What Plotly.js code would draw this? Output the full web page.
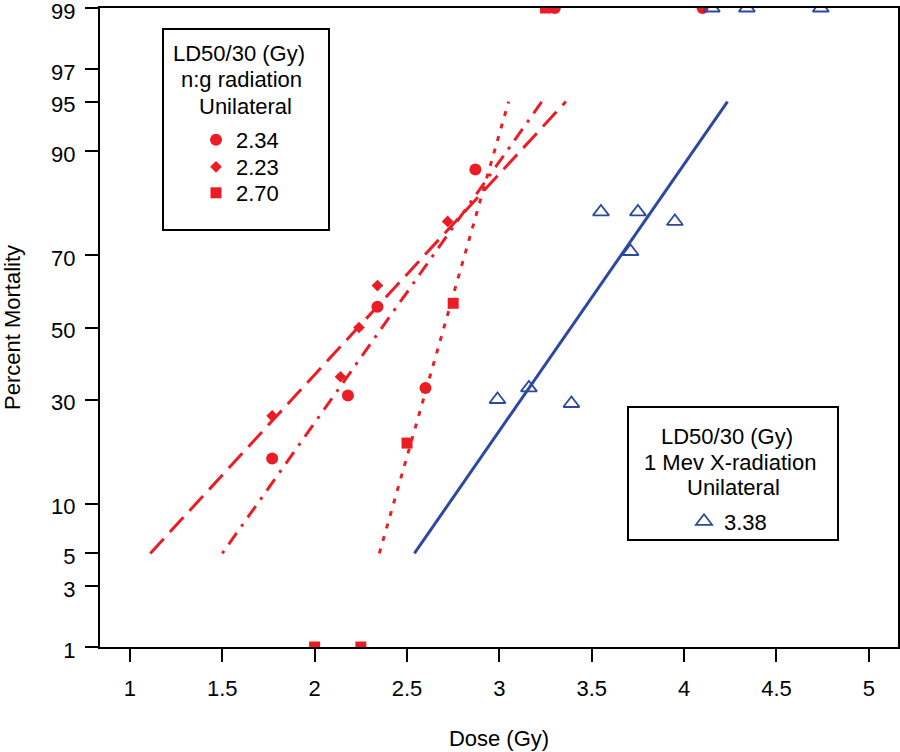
<!DOCTYPE html>
<html>
<head>
<meta charset="utf-8">
<script src="https://cdn.plot.ly/plotly-3.0.1.min.js"></script>
<style>html,body{margin:0;padding:0;background:#fff;}#chart{width:900px;height:752px;}</style>
</head>
<body>
<div id="chart"></div>
<script>
// ---- Data ----
const circleDose = [1.77, 2.18, 2.34, 2.60, 2.87, 3.30, 4.10];
const circleMort = [17, 31, 56, 33, 87.5, 99, 99];
const diamondDose = [1.77, 2.14, 2.24, 2.34, 2.72];
const diamondMort = [26, 36, 50, 62, 78];
const squareDose = [2.00, 2.25, 2.50, 2.75, 3.25];
const squareMort = [1, 1, 20, 57, 99];
const triDose = [2.99, 3.16, 3.39, 3.55, 3.71, 3.75, 3.95, 4.15, 4.34, 4.74];
const triMort = [30, 33, 29, 80, 71, 80, 78, 99, 99, 99];

// probit fit lines, from 5% to 95% mortality
const fitLevels = [5, 95];
const diamondFitDose = [1.11, 3.36];
const circleFitDose = [1.50, 3.23];
const squareFitDose = [2.35, 3.05];
const triFitDose = [2.54, 4.235];

const legendLabels = ["2.34", "2.23", "2.70", "3.38"];
const yTickVals = [1, 3, 5, 10, 30, 50, 70, 90, 95, 97, 99];
const xTickVals = [1, 1.5, 2, 2.5, 3, 3.5, 4, 4.5, 5];

// ---- probit scale (inverse standard normal CDF, Acklam) ----
function probit(p) {
  const a = [-3.969683028665376e+01, 2.209460984245205e+02, -2.759285104469687e+02, 1.383577518672690e+02, -3.066479806614716e+01, 2.506628277459239e+00];
  const b = [-5.447609879822406e+01, 1.615858368580409e+02, -1.556989798598866e+02, 6.680131188771972e+01, -1.328068155288572e+01];
  const c = [-7.784894002430293e-03, -3.223964580411365e-01, -2.400758277161838e+00, -2.549732539343734e+00, 4.374664141464968e+00, 2.938163982698783e+00];
  const d = [7.784695709041462e-03, 3.224671290700398e-01, 2.445134137142996e+00, 3.754408661907416e+00];
  const pl = 0.02425, ph = 1 - pl;
  let q, r;
  if (p < pl) {
    q = Math.sqrt(-2 * Math.log(p));
    return (((((c[0]*q+c[1])*q+c[2])*q+c[3])*q+c[4])*q+c[5]) / ((((d[0]*q+d[1])*q+d[2])*q+d[3])*q+1);
  } else if (p <= ph) {
    q = p - 0.5; r = q * q;
    return (((((a[0]*r+a[1])*r+a[2])*r+a[3])*r+a[4])*r+a[5])*q / (((((b[0]*r+b[1])*r+b[2])*r+b[3])*r+b[4])*r+1);
  } else {
    q = Math.sqrt(-2 * Math.log(1 - p));
    return -(((((c[0]*q+c[1])*q+c[2])*q+c[3])*q+c[4])*q+c[5]) / ((((d[0]*q+d[1])*q+d[2])*q+d[3])*q+1);
  }
}
const pz = arr => arr.map(v => probit(v / 100));

const RED = "#EC1C24";
const BLUE = "#2C48A0";
const FONT = "Liberation Sans, Arial, sans-serif";
const FS = 22;

const traces = [
  {x: diamondFitDose, y: pz(fitLevels), mode: "lines", showlegend: false, hoverinfo: "skip",
   line: {color: RED, width: 3, dash: "20px,9px"}},
  {x: circleFitDose, y: pz(fitLevels), mode: "lines", showlegend: false, hoverinfo: "skip",
   line: {color: RED, width: 3, dash: "3px,8px,14px,8px"}},
  {x: squareFitDose, y: pz(fitLevels), mode: "lines", showlegend: false, hoverinfo: "skip",
   line: {color: RED, width: 3, dash: "5px,8px"}},
  {x: triFitDose, y: pz(fitLevels), mode: "lines", showlegend: false, hoverinfo: "skip",
   line: {color: BLUE, width: 3}},
  {x: circleDose, y: pz(circleMort), mode: "markers", name: legendLabels[0], legend: "legend",
   marker: {symbol: "circle", size: 12, color: RED}},
  {x: diamondDose, y: pz(diamondMort), mode: "markers", name: legendLabels[1], legend: "legend2",
   marker: {symbol: "diamond", size: 9, color: RED}},
  {x: squareDose, y: pz(squareMort), mode: "markers", name: legendLabels[2], legend: "legend3",
   marker: {symbol: "square", size: 11, color: RED}},
  {x: triDose, y: pz(triMort), mode: "markers", name: legendLabels[3], legend: "legend4",
   marker: {symbol: "triangle-up-open", size: 14, color: BLUE, line: {width: 1.8, color: BLUE}}}
];

const L = 100, T = 8, PW = 798, PH = 639;
const px = v => (v - L) / PW;          // pixel -> paper x
const py = v => 1 - (v - T) / PH;      // pixel -> paper y

function legendAt(xLeft, yTop) {
  return {
    x: px(xLeft), y: py(yTop), xanchor: "left", yanchor: "top",
    bgcolor: "rgba(0,0,0,0)", borderwidth: 0, font: {family: FONT, size: FS, color: "#000"},
    itemsizing: "trace"
  };
}

const layout = {
  width: 900, height: 752,
  margin: {l: L, r: 900 - L - PW, t: T, b: 752 - T - PH},
  paper_bgcolor: "#fff", plot_bgcolor: "#fff",
  font: {family: FONT, size: FS, color: "#000"},
  showlegend: true,
  xaxis: {
    range: [0.838, 5.158], tickvals: xTickVals, ticktext: xTickVals.map(String),
    ticks: "outside", ticklen: 13, tickwidth: 2, tickcolor: "#000",
    showline: true, linecolor: "#000", linewidth: 2, mirror: true,
    showgrid: false, zeroline: false, ticklabelstandoff: 8, ticklabeloverflow: "allow",
    tickfont: {family: FONT, size: FS},
    title: {text: "Dose (Gy)", font: {family: FONT, size: FS}, standoff: 30}
  },
  yaxis: {
    range: [probit(0.01) - 1e-6, probit(0.99) + 1e-6],
    tickvals: pz(yTickVals), ticktext: yTickVals.map(String),
    ticks: "outside", ticklen: 13, tickwidth: 2, tickcolor: "#000",
    showline: true, linecolor: "#000", linewidth: 2, mirror: true,
    showgrid: false, zeroline: false, ticklabelstandoff: 5, ticklabeloverflow: "allow",
    ticklabelshift: 3,
    tickfont: {family: FONT, size: FS},
    title: {text: "Percent Mortality", font: {family: FONT, size: FS}, standoff: 32}
  },
  legend: legendAt(196, 119),
  legend2: legendAt(196, 146),
  legend3: legendAt(196, 172),
  legend4: legendAt(684, 500.5),
  shapes: [
    {type: "rect", xref: "paper", yref: "paper", x0: px(163), x1: px(329), y0: py(29), y1: py(230),
     line: {color: "#000", width: 2}, fillcolor: "rgba(0,0,0,0)"},
    {type: "rect", xref: "paper", yref: "paper", x0: px(628), x1: px(838), y0: py(407), y1: py(540),
     line: {color: "#000", width: 2}, fillcolor: "rgba(0,0,0,0)"}
  ],
  annotations: [
    {text: "LD50/30 (Gy)", x: px(238.5), y: py(53)},
    {text: "n:g radiation", x: px(241.5), y: py(80)},
    {text: "Unilateral", x: px(245.5), y: py(106)},
    {text: "LD50/30 (Gy)", x: px(726.7), y: py(436)},
    {text: "1 Mev X-radiation", x: px(729.7), y: py(462)},
    {text: "Unilateral", x: px(733.3), y: py(487.5)}
  ].map(a => Object.assign({xref: "paper", yref: "paper", showarrow: false,
    xanchor: "center", yanchor: "middle", font: {family: FONT, size: FS, color: "#000"}}, a))
};

Plotly.newPlot("chart", traces, layout, {displayModeBar: false, staticPlot: true});
</script>
</body>
</html>
